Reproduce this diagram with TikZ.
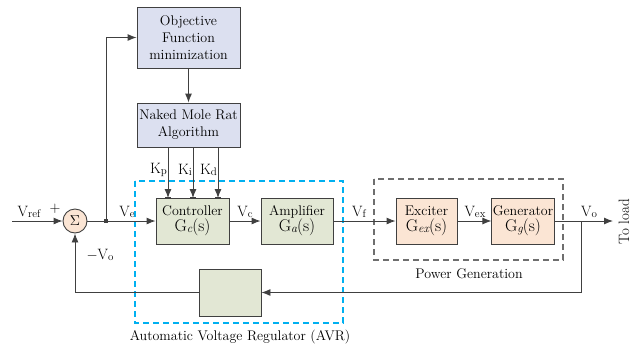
\documentclass[tikz,border=0pt]{standalone}
\usepackage{fontspec}
\usetikzlibrary{arrows.meta,positioning}
\definecolor{lineg}{RGB}{64,64,64}
\definecolor{optblue}{RGB}{220,224,240}
\definecolor{avrgreen}{RGB}{226,231,212}
\definecolor{genpeach}{RGB}{251,229,212}
\definecolor{avrblue}{RGB}{0,176,240}
\definecolor{gengray}{RGB}{110,110,110}
\newcommand{\sg}[2]{#1{\fontsize{11}{11}\selectfont\raisebox{-0.8pt}{#2}}}
\newcommand{\tf}[1]{{\fontsize{17}{17}\selectfont G}{\fontsize{12}{12}\selectfont\raisebox{-0.5pt}{\itshape #1}}{\fontsize{17}{17}\selectfont(s)}}
\tikzset{
  blk/.style={draw=lineg,line width=0.9pt,align=center,inner sep=1pt,
    font=\fontsize{14}{17}\selectfont},
  sig/.style={draw=lineg,line width=0.9pt,-{Latex[length=9pt,width=7pt]}},
  wire/.style={draw=lineg,line width=0.9pt},
  lbl/.style={font=\fontsize{15}{15}\selectfont,inner sep=0pt},
  pin/.style={fill=lineg,minimum width=6pt,minimum height=2pt,inner sep=0pt},
  frame/.style={line width=1.2pt,dashed,dash pattern=on 6pt off 4pt}
}
\begin{document}
\begin{tikzpicture}[x=1pt,y=-1pt,font=\fontsize{14}{17}\selectfont]
\useasboundingbox (0,0) rectangle (640,349);
% frames
\draw[frame,color=avrblue] (135,181) rectangle (343,323);
\node (avrlbl) at (240,337) {Automatic Voltage Regulator (AVR)};
\draw[frame,color=gengray] (374,179) rectangle (563,260);
\node (genlbl) at (469,274) {Power Generation};
% blocks
\node[blk,fill=optblue,minimum width=103pt,minimum height=61pt] (obj) at (188.5,37.5) {Objective\\Function\\minimization};
\node[blk,fill=optblue,minimum width=103pt,minimum height=44pt] (nmr) at (188.5,125) {Naked Mole Rat\\Algorithm};
\node[blk,fill=avrgreen,minimum width=73pt,minimum height=46pt] (ctrl) at (192.5,221) {Controller\\[-1pt]\tf{c}};
\node[blk,fill=avrgreen,minimum width=72pt,minimum height=46pt] (amp) at (297,221) {Amplifier\\[-1pt]\tf{a}};
\node[blk,fill=avrgreen,minimum width=62pt,minimum height=47pt] (sens) at (230,292.5) {};
\node[blk,fill=genpeach,minimum width=61pt,minimum height=46pt] (exc) at (426.5,221) {Exciter\\[-1pt]\tf{ex}};
\node[blk,fill=genpeach,minimum width=62pt,minimum height=46pt] (gen) at (523,221) {Generator\\[-1pt]\tf{g}};
\node[draw=lineg,line width=0.9pt,fill=genpeach,circle,minimum size=24pt,inner sep=0pt,font=\fontsize{15}{15}\selectfont] (sum) at (75,221) {$\Sigma$};
% points
\coordinate (in) at (12,221);
\coordinate (tap) at (106,221);
\coordinate (out) at (613,221);
\coordinate (vtap) at (581,221);
% forward path
\draw[sig] (in) -- (sum);
\draw[wire] (sum) -- (tap);
\draw[sig] (tap) -- (ctrl);
\draw[sig] (ctrl) -- (amp);
\draw[sig] (amp) -- (exc);
\draw[sig] (exc) -- (gen);
\draw[sig] (gen) -- (out);
\fill[lineg] (tap) ++(-2,-2) rectangle ++(4,4);
% feedback
\draw[sig] (vtap) |- (sens);
\draw[sig] (sens) -| (sum);
% optimisation loop
\draw[sig] (tap) |- (obj);
\draw[sig] (obj) -- (nmr);
\foreach \k/\xx in {p/168,i/193,d/218}{
  \draw[sig] (\xx,147) -- (\xx,198);
  \node[pin] (pin\k) at (\xx,198) {};
  \node[lbl,anchor=east] (k\k) at (\xx-1,170) {\sg{K}{\k}};
}
% labels
\node[lbl] (vref) at (29,212) {\sg{V}{ref}};
\node[lbl] (plus) at (55,209) {+};
\node[lbl] (ve) at (127,212) {\sg{V}{e}};
\node[lbl] (vo2) at (100,255) {\sg{$-$V}{o}};
\node[lbl] (vc) at (245,212) {\sg{V}{c}};
\node[lbl] (vf) at (359,212) {\sg{V}{f}};
\node[lbl] (vex) at (475,212) {\sg{V}{ex}};
\node[lbl] (vo) at (589,212) {\sg{V}{o}};
\node[lbl,rotate=90] (load) at (624,222) {To load};
\end{tikzpicture}
\end{document}
